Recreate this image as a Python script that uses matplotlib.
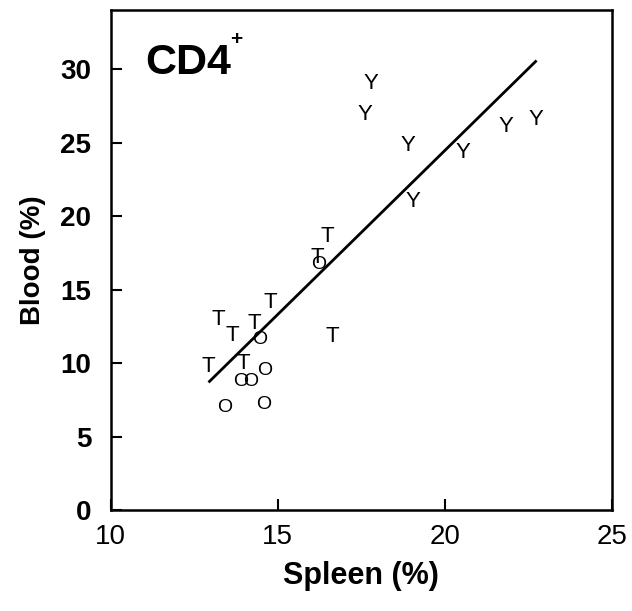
import matplotlib
matplotlib.use("Agg")
import matplotlib.pyplot as plt
import numpy as np

plt.rcParams['font.family'] = ['Liberation Sans', 'DejaVu Sans']

# Data (Spleen %, Blood %)
y_spleen = [17.78, 17.60, 18.89, 19.04, 20.54, 21.83, 22.72]
y_blood = [29.0, 26.9, 24.8, 21.0, 24.3, 26.1, 26.6]

t_spleen = [16.50, 16.20, 14.79, 13.23, 13.65, 14.31, 16.65, 12.93, 13.98]
t_blood = [18.6, 17.2, 14.1, 13.0, 11.9, 12.7, 11.8, 9.8, 10.0]

o_spleen = [16.23, 14.46, 14.61, 13.89, 14.19, 13.41, 14.58]
o_blood = [16.7, 11.6, 9.5, 8.76, 8.76, 7.0, 7.2]

fit_x = [12.96, 22.72]
fit_slope = 2.23
fit_intercept = -20.14

xticks = [10, 15, 20, 25]
yticks = [0, 5, 10, 15, 20, 25, 30]

fig = plt.figure(figsize=(6.32, 6.11), dpi=100)
ax = fig.add_axes([0.175, 0.165, 0.793, 0.818])
ax.set_xlim(10, 25)
ax.set_ylim(0, 34)

for xs, ys, ch, fs in [(y_spleen, y_blood, 'Y', 16),
                       (t_spleen, t_blood, 'T', 16),
                       (o_spleen, o_blood, 'O', 14)]:
    for x, y in zip(xs, ys):
        ax.text(x, y, ch, ha='center', va='center', fontsize=fs, color='black')

fx = np.array(fit_x)
ax.plot(fx, fit_slope * fx + fit_intercept, color='black', lw=2)

ax.set_xticks(xticks)
ax.set_yticks(yticks)
ax.set_xticklabels([str(t) for t in xticks], fontsize=20)
ax.set_yticklabels([str(t) for t in yticks], fontsize=20, fontweight='bold')
ax.tick_params(direction='in', length=8, width=1.5)
ax.tick_params(axis='y', pad=14)
ax.tick_params(axis='x', pad=10)
for s in ax.spines.values():
    s.set_linewidth(1.8)

ax.set_xlabel('Spleen (%)', fontsize=22, fontweight='bold', labelpad=8)
ax.set_ylabel('Blood (%)', fontsize=20, fontweight='bold', labelpad=10)
ax.text(0.07, 0.935, 'CD4', transform=ax.transAxes, fontsize=31,
        fontweight='bold', ha='left', va='top')
ax.text(0.238, 0.96, '+', transform=ax.transAxes, fontsize=15,
        fontweight='bold', ha='left', va='top')

fig.savefig('out.png', dpi=100)
